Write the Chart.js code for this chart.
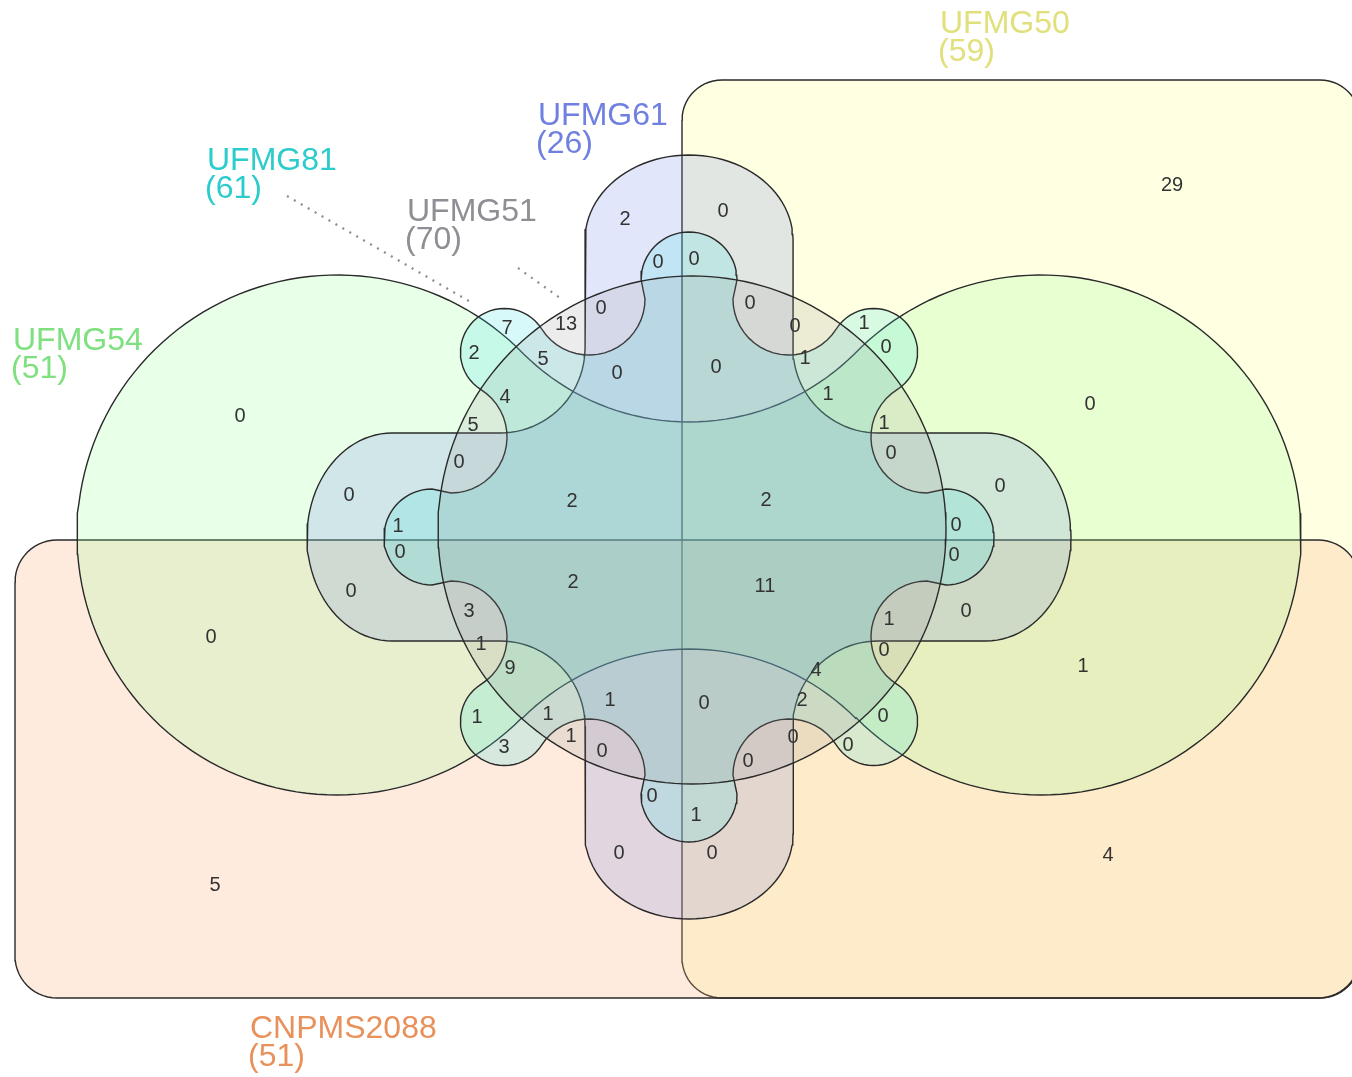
<!DOCTYPE html>
<html>
<head>
<meta charset="utf-8">
<title>Venn diagram – six isolates</title>
<script src="https://cdn.jsdelivr.net/npm/chart.js@4.4.1/dist/chart.umd.min.js"></script>
<style>
  html, body { margin: 0; padding: 0; background: #fff; }
  #wrap { position: relative; width: 1352px; height: 1077px; }
</style>
</head>
<body>
<div id="wrap"><canvas id="venn"></canvas></div>
<script>
// ---- data ----
const setNames = ['UFMG50', 'CNPMS2088', 'UFMG54', 'UFMG61', 'UFMG81', 'UFMG51'];
const setTotals = [59, 51, 51, 26, 61, 70];

// one count per region (63 regions), same order as regionSpots below
const regionCounts = [
    29, 0, 1, 4, 5, 0, 0,
    2, 0, 0, 0, 0, 13, 0, 0, 7, 2, 5, 0, 0, 1, 0, 1, 1, 4, 5, 1, 0, 0, 0,
    2, 2, 0, 1, 0, 0, 0, 0, 2, 11, 0, 3, 1, 1, 0, 9, 4, 1, 0, 2, 1, 1, 0,
    3, 1, 0, 0, 0, 0, 0, 1, 0, 0
];

// ---- layout (pixel space of the 1352 x 1077 page) ----
const regionSpots = [
    [1172,184],[1090,403],[1083,665],[1108,854],[215,884],[211,636],[240,415],
    [625,218],[723,210],[658,261],[694,258],[601,307],[566,323],[750,302],[795,325],
    [507,327],[474,352],[543,358],[617,372],[716,366],[864,322],[886,346],[805,357],
    [828,393],[505,396],[473,424],[884,422],[891,452],[459,461],[349,494],[572,500],
    [766,499],[1000,485],[398,525],[400,551],[956,524],[954,554],[351,590],[573,581],
    [765,585],[966,610],[469,610],[889,618],[481,643],[884,649],[510,667],[816,669],
    [610,699],[704,702],[802,699],[477,716],[548,713],[883,715],[504,746],[571,735],
    [602,750],[748,760],[793,736],[848,744],[652,795],[696,814],[619,852],[712,852]
];
const labelSpots = [[940, 33], [250, 1038], [13, 350], [538, 125], [207, 170], [407, 221]];
const labelColors = ['#e0e07c', '#e8915a', '#7ee07e', '#7080e0', '#2ccccc', '#8e8e94'];
const fillColors = [
    'rgba(255,255,160,0.30)',
    'rgba(250,175,125,0.25)',
    'rgba(150,255,150,0.22)',
    'rgba(110,130,230,0.20)',
    'rgba(60,225,225,0.20)',
    'rgba(150,150,150,0.18)'
];
const leaders = [
    [[287, 196], [474, 304]],
    [[518, 268], [560, 298]]
];

// ---- shape geometry ----
const deg = Math.PI / 180;
const CX = 689, CY = 537;

function arcPts(cx, cy, rx, ry, a0, a1, n) {
    const pts = [];
    for (let i = 0; i <= n; i++) {
        const a = a0 + (a1 - a0) * i / n;
        pts.push({ x: cx + rx * Math.cos(a), y: cy + ry * Math.sin(a) });
    }
    return pts;
}

function closeLoop(pts) {
    pts.push({ x: pts[0].x, y: pts[0].y });
    return pts;
}

function roundRect(x0, y0, x1, y1, r) {
    return closeLoop([
        ...arcPts(x0 + r, y0 + r, r, r, 180 * deg, 270 * deg, 14),
        ...arcPts(x1 - r, y0 + r, r, r, 270 * deg, 360 * deg, 14),
        ...arcPts(x1 - r, y1 - r, r, r, 0, 90 * deg, 14),
        ...arcPts(x0 + r, y1 - r, r, r, 90 * deg, 180 * deg, 14)
    ]);
}

// build a 4-fold symmetric loop from one octant (top tip -> upper-left diagonal)
function fromOctant(oct, cx, cy) {
    const mirror = oct.map(p => ({ x: p.y, y: p.x })).reverse();
    const quarter = oct.concat(mirror);
    let all = [];
    let cur = quarter;
    for (let k = 0; k < 4; k++) {
        all = all.concat(cur);
        cur = cur.map(p => ({ x: p.y, y: -p.x }));
    }
    return closeLoop(all.map(p => ({ x: cx + p.x, y: cy + p.y })));
}

function plusOctant() {
    const w = 104, reach = 382, capB = 85, rf = 85;
    return [
        ...arcPts(0, -(reach - capB), w, capB, -90 * deg, -180 * deg, 24),
        ...arcPts(-(w + rf), -(w + rf), rf, rf, 0, 45 * deg, 12)
    ];
}

function flowerOctant() {
    const lobeR = 48, lobeC = -257;
    const diagD = 261, diagR = 44;
    const dip = { x: -100, y: -238 };
    const B = { x: -diagD / Math.SQRT2, y: -diagD / Math.SQRT2 };
    const rD = Math.hypot(B.x - dip.x, B.y - dip.y) - diagR;
    const tA = Math.atan2(B.y - dip.y, B.x - dip.x);
    return [
        ...arcPts(0, lobeC, lobeR, lobeR, -90 * deg, -180 * deg, 16),
        ...arcPts(dip.x, dip.y, rD, rD, 0, tA, 20),
        ...arcPts(B.x, B.y, diagR, diagR, tA - Math.PI, -135 * deg, 16)
    ];
}

function circleHits(c1, r1, c2, r2) {
    const dx = c2.x - c1.x, dy = c2.y - c1.y;
    const d = Math.hypot(dx, dy);
    const a = (r1 * r1 - r2 * r2 + d * d) / (2 * d);
    const h = Math.sqrt(Math.max(0, r1 * r1 - a * a));
    const px = c1.x + a * dx / d, py = c1.y + a * dy / d;
    return [
        { x: px + h * dy / d, y: py - h * dx / d },
        { x: px - h * dy / d, y: py + h * dx / d }
    ];
}

// two round lobes joined by a waist whose edges touch the lobes
function dumbbell() {
    const A = { x: 337, y: 535 }, C = { x: 1041, y: 535 }, r = 260;
    const R = 235;
    const U = { x: CX, y: 422 - R }, L = { x: CX, y: 649 + R };
    const nearX = (pts, fn) => pts.sort((p, q) => fn(p) - fn(q))[0];
    const J1 = nearX(circleHits(A, r, U, R), p => -p.x);
    const J2 = nearX(circleHits(C, r, U, R), p => p.x);
    const J3 = nearX(circleHits(C, r, L, R), p => p.x);
    const J4 = nearX(circleHits(A, r, L, R), p => -p.x);
    const ang = (c, p) => Math.atan2(p.y - c.y, p.x - c.x);
    let a1 = ang(A, J1);
    if (a1 < ang(A, J4)) a1 += 2 * Math.PI;
    return closeLoop([
        ...arcPts(U.x, U.y, R, R, ang(U, J1), ang(U, J2), 40),
        ...arcPts(C.x, C.y, r, r, ang(C, J2), ang(C, J3), 120),
        ...arcPts(L.x, L.y, R, R, ang(L, J3), ang(L, J4), 40),
        ...arcPts(A.x, A.y, r, r, ang(A, J4), a1, 120)
    ]);
}

const shapes = [
    roundRect(682, 80, 1360, 998, 40),             // UFMG50
    roundRect(15, 540, 1360, 998, 42),             // CNPMS2088
    dumbbell(),                                    // UFMG54
    fromOctant(plusOctant(), CX, CY),              // UFMG61
    fromOctant(flowerOctant(), CX, CY),            // UFMG81
    closeLoop(arcPts(692, 530, 254, 254, 0, 2 * Math.PI, 180)) // UFMG51
];

// ---- chart ----
const datasets = shapes.map((pts, i) => ({
    label: setNames[i],
    data: pts,
    showLine: true,
    fill: 'shape',
    backgroundColor: fillColors[i],
    borderColor: '#2a2a2a',
    borderWidth: 1.4,
    pointRadius: 0,
    pointHoverRadius: 0,
    tension: 0,
    order: 10 - i
}));

leaders.forEach(seg => datasets.push({
    label: 'leader',
    data: seg.map(p => ({ x: p[0], y: p[1] })),
    showLine: true,
    fill: false,
    borderColor: '#8c8c8c',
    borderWidth: 2.2,
    borderDash: [2, 6],
    pointRadius: 0,
    order: 1
}));

datasets.push({
    label: 'counts',
    data: regionSpots.map((p, i) => ({ x: p[0], y: p[1], n: regionCounts[i] })),
    showLine: false,
    pointRadius: 0,
    pointHoverRadius: 0,
    order: 0
});

const textPlugin = {
    id: 'vennText',
    afterDatasetsDraw(chart) {
        const ctx = chart.ctx;
        const xs = chart.scales.x, ys = chart.scales.y;
        const idx = chart.data.datasets.findIndex(d => d.label === 'counts');
        const meta = chart.getDatasetMeta(idx);
        const ds = chart.data.datasets[idx];
        ctx.save();
        ctx.fillStyle = '#333';
        ctx.font = '20px "Liberation Sans Narrow", "Liberation Sans", Arial, sans-serif';
        ctx.textAlign = 'center';
        ctx.textBaseline = 'middle';
        meta.data.forEach((el, j) => {
            ctx.fillText(String(ds.data[j].n), el.x, el.y + 1);
        });

        ctx.textAlign = 'left';
        ctx.textBaseline = 'alphabetic';
        ctx.font = '32px "Liberation Sans", Arial, sans-serif';
        setNames.forEach((name, i) => {
            const x = xs.getPixelForValue(labelSpots[i][0]);
            const y = ys.getPixelForValue(labelSpots[i][1]);
            ctx.fillStyle = labelColors[i];
            ctx.fillText(name, x, y);
            ctx.fillText('(' + setTotals[i] + ')', x - 2, y + 28);
        });
        ctx.restore();
    }
};

new Chart(document.getElementById('venn'), {
    type: 'scatter',
    data: { datasets },
    options: {
        responsive: true,
        maintainAspectRatio: false,
        animation: false,
        events: [],
        layout: { padding: 0 },
        scales: {
            x: { type: 'linear', min: 0, max: 1352, display: false },
            y: { type: 'linear', min: 0, max: 1077, reverse: true, display: false }
        },
        plugins: {
            legend: { display: false },
            tooltip: { enabled: false }
        }
    },
    plugins: [textPlugin]
});
</script>
</body>
</html>
